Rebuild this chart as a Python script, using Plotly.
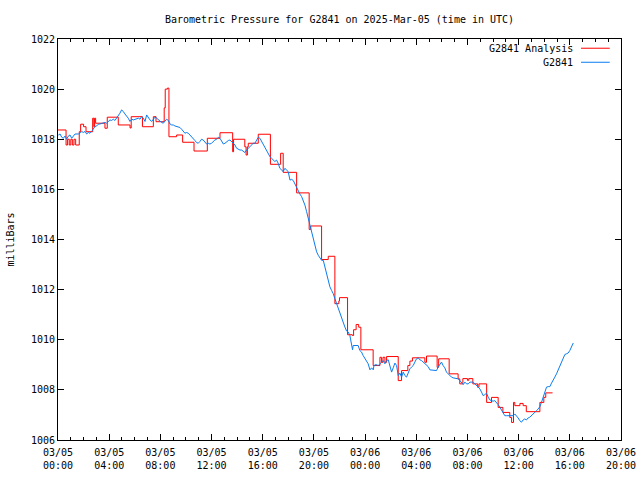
import datetime as dt
import plotly.graph_objects as go

# ---------------- data ----------------
base = dt.datetime(2025, 3, 5, 0, 0)

# G2841 Analysis (step series): hours after 2025-03-05 00:00 UTC, pressure in mb
analysis_hours = [
    0.0, 0.63, 0.75, 0.88, 1.0, 1.12, 1.25, 1.38, 1.66, 1.77, 2.0, 2.19, 2.71, 2.80, 2.86,
    2.94, 3.67, 3.85, 4.71, 5.63, 5.72, 6.6, 7.45, 7.66, 8.3, 8.38, 8.55, 8.67, 9.27, 9.74,
    10.63, 11.67, 12.66, 13.65, 13.72, 14.6, 14.7, 14.8, 14.87, 15.65, 16.6, 17.4, 17.6,
    18.65, 19.63, 19.75, 20.6, 21.12, 21.64, 21.95, 22.0, 22.63, 23.0, 23.1, 23.3, 23.5,
    23.67, 24.63, 25.16, 25.29, 25.4, 25.55, 25.68, 26.59, 26.85, 27.34, 27.5, 27.7, 28.67,
    28.8, 29.63, 29.75, 30.57, 31.27, 31.4, 31.64, 32.0, 32.1, 32.42, 32.8, 32.9, 33.5,
    33.88, 34.4, 34.77, 35.31, 35.45, 35.6, 35.7, 36.1, 36.35, 36.6, 37.66, 37.97, 38.12,
    38.65,
]
analysis_mb = [
    1018.37, 1017.77, 1018.0, 1017.77, 1018.0, 1017.77, 1018.0, 1017.77, 1018.3, 1018.6,
    1018.5, 1018.3, 1018.84, 1018.5, 1018.84, 1018.64, 1018.44, 1018.88, 1018.57, 1018.45,
    1018.9, 1018.5, 1018.9, 1018.7, 1019.25, 1020.0, 1020.04, 1018.1, 1018.17, 1017.88,
    1017.53, 1018.04, 1018.26, 1017.5, 1018.0, 1017.7, 1017.37, 1017.7, 1017.84, 1018.2,
    1017.0, 1017.44, 1016.68, 1015.86, 1014.4, 1014.54, 1013.2, 1013.33, 1011.44, 1011.55,
    1011.68, 1010.2, 1010.17, 1010.4, 1010.61, 1010.5, 1009.6, 1008.97, 1009.3, 1009.1,
    1009.3, 1009.1, 1009.33, 1008.37, 1008.77, 1008.97, 1009.15, 1009.28, 1009.1, 1009.35,
    1008.9, 1009.24, 1008.64, 1008.44, 1008.24, 1008.45, 1008.38, 1008.45, 1008.24, 1008.1,
    1008.24, 1007.5, 1007.7, 1007.3, 1007.1, 1006.9, 1006.7, 1007.5, 1007.37, 1007.46,
    1007.37, 1007.13, 1007.5, 1007.7, 1007.88, 1007.88,
]

# G2841 observations: hours after 2025-03-05 00:00 UTC, pressure in mb
obs_hours = [
    0.03, 0.16, 0.29, 0.42, 0.55, 0.68, 0.81, 0.94, 1.07, 1.20, 1.33, 1.59, 1.72, 1.85, 1.98,
    2.11, 2.24, 2.37, 2.50, 2.63, 2.76, 2.89, 3.02, 3.15, 3.28, 3.54, 3.67, 3.80, 3.93, 4.06,
    4.19, 4.32, 4.45, 4.58, 4.71, 4.84, 4.97, 5.10, 5.23, 5.36, 5.49, 5.62, 5.76, 5.89, 6.02,
    6.15, 6.28, 6.41, 6.54, 6.67, 6.80, 6.93, 7.06, 7.19, 7.32, 7.45, 7.58, 7.71, 7.84, 7.97,
    8.10, 8.23, 8.36, 8.49, 8.62, 8.75, 8.88, 9.01, 9.14, 9.27, 9.40, 9.53, 9.66, 9.79, 9.92,
    10.05, 10.18, 10.31, 10.44, 10.57, 10.70, 10.83, 10.96, 11.09, 11.22, 11.35, 11.48, 11.61,
    11.74, 11.87, 12.00, 12.13, 12.26, 12.40, 12.53, 12.66, 12.79, 12.92, 13.05, 13.18, 13.31,
    13.44, 13.57, 13.70, 13.83, 13.96, 14.09, 14.22, 14.35, 14.48, 14.61, 14.74, 14.87, 15.00,
    15.13, 15.26, 15.39, 15.52, 15.65, 15.78, 15.91, 16.04, 16.17, 16.30, 16.43, 16.56, 16.69,
    16.82, 16.95, 17.08, 17.21, 17.34, 17.47, 17.60, 17.73, 17.86, 17.99, 18.13, 18.26, 18.39,
    18.52, 18.65, 18.78, 18.91, 19.04, 19.17, 19.30, 19.43, 19.56, 19.69, 19.82, 19.95, 20.08,
    20.21, 20.34, 20.47, 20.60, 20.73, 20.86, 20.99, 21.12, 21.25, 21.38, 21.51, 21.64, 21.77,
    21.90, 22.03, 22.16, 22.29, 22.42, 22.55, 22.68, 22.81, 22.94, 23.02, 23.07, 23.33, 23.46,
    23.59, 23.72, 23.85, 23.98, 24.11, 24.24, 24.38, 24.51, 24.64, 24.69, 24.84, 25.03, 25.16,
    25.29, 25.42, 25.55, 25.68, 25.81, 25.94, 26.07, 26.20, 26.33, 26.46, 26.59, 26.72, 26.85,
    26.98, 27.11, 27.24, 27.37, 27.50, 27.63, 27.76, 27.89, 28.02, 28.15, 28.28, 28.41, 28.54,
    28.67, 28.80, 28.93, 29.06, 29.32, 29.58, 29.71, 29.84, 29.97, 30.10, 30.23, 30.36, 30.49,
    30.62, 30.75, 30.88, 31.15, 31.28, 31.41, 31.54, 31.67, 31.80, 31.93, 32.06, 32.19, 32.45,
    32.58, 32.71, 32.84, 32.97, 33.10, 33.23, 33.36, 33.49, 33.62, 33.75, 33.88, 34.01, 34.14,
    34.27, 34.40, 34.53, 34.66, 34.79, 34.92, 35.05, 35.31, 35.57, 35.70, 35.83, 35.96, 36.09,
    36.22, 36.35, 36.48, 36.61, 36.74, 36.87, 37.00, 37.14, 37.27, 37.40, 37.53, 37.66, 37.79,
    37.92, 38.05, 38.18, 38.31, 38.44, 38.57, 38.70, 38.83, 38.96, 39.09, 39.22, 39.35, 39.48,
    39.61, 39.74, 39.87, 40.00, 40.14, 40.27,
]
obs_mb = [
    1018.17, 1018.21, 1018.08, 1018.04, 1018.13, 1018.0, 1018.13, 1018.17, 1018.04, 1018.13,
    1018.21, 1018.21, 1018.24, 1018.31, 1018.27, 1018.31, 1018.21, 1018.27, 1018.24, 1018.31,
    1018.44, 1018.51, 1018.53, 1018.60, 1018.61, 1018.64, 1018.67, 1018.64, 1018.71, 1018.77,
    1018.75, 1018.80, 1018.75, 1018.84, 1018.93, 1019.04, 1019.17, 1019.11, 1019.01, 1018.93,
    1018.84, 1018.71, 1018.80, 1018.77, 1018.80, 1018.80, 1018.84, 1018.80, 1018.91, 1018.84,
    1018.71, 1018.97, 1018.84, 1018.77, 1018.71, 1018.80, 1018.88, 1018.84, 1018.77, 1018.71,
    1018.67, 1018.64, 1018.71, 1018.80, 1018.75, 1018.61, 1018.57, 1018.57, 1018.53, 1018.51,
    1018.47, 1018.47, 1018.40, 1018.31, 1018.24, 1018.27, 1018.24, 1018.17, 1018.11, 1018.04,
    1017.95, 1017.87, 1017.84, 1017.91, 1018.0, 1017.97, 1017.91, 1017.81, 1017.84, 1017.81,
    1017.84, 1017.91, 1017.97, 1018.0, 1018.08, 1018.04, 1017.95, 1017.81, 1017.84, 1017.91,
    1017.95, 1017.97, 1017.91, 1017.84, 1017.77, 1017.64, 1017.60, 1017.57, 1017.57, 1017.51,
    1017.47, 1017.57, 1017.64, 1017.73, 1017.77, 1017.84, 1017.84, 1017.97, 1018.08, 1018.04,
    1017.91, 1017.84, 1017.71, 1017.57, 1017.44, 1017.31, 1017.24, 1017.17, 1017.11, 1017.17,
    1017.04, 1016.84, 1016.77, 1016.71, 1016.84, 1016.77, 1016.71, 1016.37, 1016.40, 1016.35,
    1016.21, 1016.04, 1015.91, 1015.81, 1015.71, 1015.57, 1015.37, 1015.11, 1014.84, 1014.51,
    1014.24, 1013.97, 1013.71, 1013.51, 1013.37, 1013.24, 1013.17, 1013.17, 1012.91, 1012.64,
    1012.37, 1012.11, 1011.97, 1011.84, 1011.64, 1011.44, 1011.31, 1011.04, 1010.84, 1010.64,
    1010.51, 1010.35, 1010.31, 1010.17, 1009.84, 1009.60, 1009.77, 1009.77, 1009.77, 1009.57,
    1009.51, 1009.37, 1009.24, 1009.11, 1009.04, 1008.80, 1008.88, 1008.80, 1008.97, 1009.01,
    1008.97, 1009.04, 1009.11, 1009.17, 1009.04, 1009.17, 1009.20, 1008.97, 1008.71, 1008.88,
    1009.07, 1008.97, 1008.57, 1008.67, 1008.51, 1008.71, 1008.57, 1008.51, 1008.71, 1008.84,
    1008.91, 1008.97, 1009.11, 1009.24, 1009.28, 1009.20, 1009.17, 1009.11, 1009.07, 1009.01,
    1008.93, 1008.80, 1008.77, 1008.77, 1008.91, 1009.04, 1009.11, 1008.97, 1008.88, 1008.71,
    1008.64, 1008.57, 1008.51, 1008.48, 1008.44, 1008.44, 1008.37, 1008.31, 1008.21, 1008.31,
    1008.24, 1008.24, 1008.31, 1008.31, 1008.24, 1008.21, 1008.11, 1008.04, 1007.91, 1007.77,
    1007.81, 1007.87, 1007.71, 1007.60, 1007.57, 1007.55, 1007.57, 1007.51, 1007.41, 1007.31,
    1007.20, 1007.11, 1006.97, 1006.97, 1006.97, 1006.97, 1007.04, 1006.97, 1006.88, 1006.77,
    1006.71, 1006.80, 1006.84, 1006.80, 1006.88, 1006.91, 1006.97, 1007.04, 1007.07, 1007.17,
    1007.24, 1007.33, 1007.51, 1007.71, 1007.91, 1008.11, 1008.13, 1008.13, 1008.27, 1008.37,
    1008.51, 1008.64, 1008.80, 1008.97, 1009.11, 1009.28, 1009.41, 1009.44, 1009.47, 1009.57,
    1009.73, 1009.87,
]

tick_hours = [0, 4, 8, 12, 16, 20, 24, 28, 32, 36, 40, 44]
tick_labels = ["03/05<br>00:00", "03/05<br>04:00", "03/05<br>08:00", "03/05<br>12:00",
               "03/05<br>16:00", "03/05<br>20:00", "03/06<br>00:00", "03/06<br>04:00",
               "03/06<br>08:00", "03/06<br>12:00", "03/06<br>16:00", "03/06<br>20:00"]
y_ticks = [1006, 1008, 1010, 1012, 1014, 1016, 1018, 1020, 1022]

title_text = "Barometric Pressure for G2841 on 2025-Mar-05 (time in UTC)"
names = ["G2841 Analysis", "G2841"]
colors = ["#ff0000", "#0a7cf0"]

# ---------------- figure ----------------
def to_time(hours):
    return [base + dt.timedelta(hours=h) for h in hours]

FONT = "DejaVu Sans Mono"

fig = go.Figure()
fig.add_trace(go.Scatter(x=to_time(analysis_hours), y=analysis_mb, mode="lines",
                         line=dict(color=colors[0], width=1, shape="hv"), name=names[0]))
fig.add_trace(go.Scatter(x=to_time(obs_hours), y=obs_mb, mode="lines",
                         line=dict(color=colors[1], width=1), name=names[1]))

fig.update_layout(
    width=640, height=480,
    margin=dict(l=58, r=19, t=39, b=40, autoexpand=False),
    paper_bgcolor="white", plot_bgcolor="white",
    showlegend=False,
    font=dict(family=FONT, size=10, color="black"),
    title=dict(text=title_text, x=0.5, xref="paper", y=1 - 19 / 480, yref="container",
               xanchor="center", yanchor="middle", font=dict(family=FONT, size=10)),
)
fig.update_xaxes(
    type="date", automargin=False,
    range=[base, base + dt.timedelta(hours=44)],
    tickvals=to_time(tick_hours), ticktext=tick_labels,
    ticks="inside", ticklen=6, tickcolor="black", tickwidth=1,
    showline=True, linecolor="black", linewidth=1, mirror="ticks",
    showgrid=False, zeroline=False, ticklabelstandoff=3,
    minor=dict(ticks="inside", ticklen=3, dtick=3600000, tickcolor="black", showgrid=False),
    tickfont=dict(family=FONT, size=10),
)
fig.update_yaxes(
    range=[1006, 1022], tickvals=y_ticks, automargin=False,
    ticks="inside", ticklen=6, tickcolor="black", tickwidth=1,
    showline=True, linecolor="black", linewidth=1, mirror="ticks",
    showgrid=False, zeroline=False,
    tickfont=dict(family=FONT, size=10),
    title=dict(text="milliBars", font=dict(family=FONT, size=10), standoff=14),
)

# gnuplot-style key (text right-aligned, sample line to its right)
key_rows = [0.977, 0.942]
for name, col, yk in zip(names, colors, key_rows):
    fig.add_annotation(x=0.918, y=yk, xref="paper", yref="paper", text=name,
                       showarrow=False, xanchor="right", yanchor="middle",
                       font=dict(family=FONT, size=10, color="black"))
    fig.add_shape(type="line", xref="paper", yref="paper", x0=0.929, x1=0.980,
                  y0=yk, y1=yk, line=dict(color=col, width=1))

fig.write_html("out.html")
